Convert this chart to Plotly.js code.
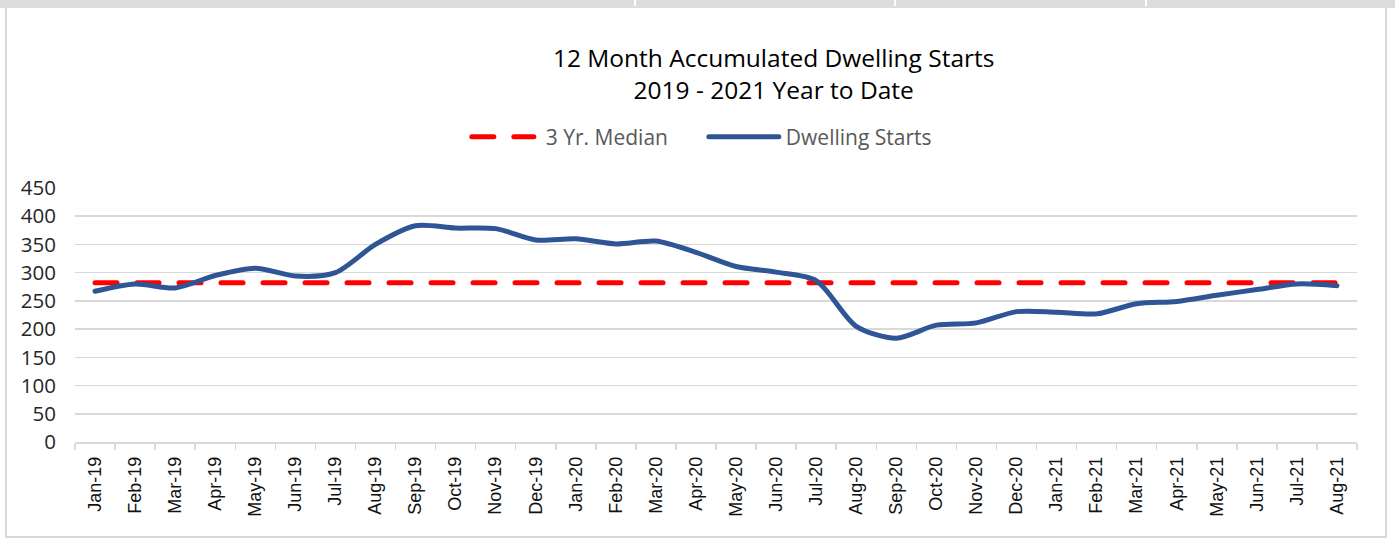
<!DOCTYPE html>
<html>
<head>
<meta charset="utf-8">
<script src="https://cdn.plot.ly/plotly-3.0.1.min.js"></script>
<style>
html, body { margin: 0; padding: 0; background: #ffffff; }
#wrap { position: relative; width: 1395px; height: 538px; overflow: hidden; }
#chart { position: absolute; left: 0; top: 0; width: 1395px; height: 538px; }
.frame { position: absolute; pointer-events: none; }
.scatterlayer path.js-line { stroke-linecap: round; stroke-linejoin: round; }
.legend path.js-line { stroke-linecap: round; }
</style>
</head>
<body>
<div id="wrap">
  <div id="chart"></div>
  <div class="frame" style="left:0;top:0;width:1395px;height:8px;background:#dcdcdc;"></div>
  <div class="frame" style="left:634px;top:0;width:2px;height:6px;background:#ffffff;"></div>
  <div class="frame" style="left:894px;top:0;width:2px;height:6px;background:#ffffff;"></div>
  <div class="frame" style="left:1145px;top:0;width:2px;height:6px;background:#ffffff;"></div>
  <div class="frame" style="left:5px;top:8px;width:2px;height:530px;background:#d9d9d9;"></div>
  <div class="frame" style="left:1385px;top:8px;width:2px;height:530px;background:#d9d9d9;"></div>
  <div class="frame" style="left:5px;top:536px;width:1382px;height:2px;background:#d9d9d9;"></div>
</div>
<script>
var months = ["Jan-19","Feb-19","Mar-19","Apr-19","May-19","Jun-19","Jul-19","Aug-19","Sep-19","Oct-19","Nov-19","Dec-19",
              "Jan-20","Feb-20","Mar-20","Apr-20","May-20","Jun-20","Jul-20","Aug-20","Sep-20","Oct-20","Nov-20","Dec-20",
              "Jan-21","Feb-21","Mar-21","Apr-21","May-21","Jun-21","Jul-21","Aug-21"];
var dwellingStarts = [267,280,273,295,308,294,300,350,383,379,378,358,
                      360,351,356,336,311,301,286,205,184,207,211,231,
                      230,227,245,249,260,270,280,277];
var median3yr = [282,282,282,282,282,282,282,282,282,282,282,282,
                 282,282,282,282,282,282,282,282,282,282,282,282,
                 282,282,282,282,282,282,282,282];
var yTicks = [0,50,100,150,200,250,300,350,400,450];

var traces = [
  {
    x: months, y: median3yr, type: "scatter", mode: "lines", name: "3 Yr. Median",
    line: { color: "#ff0000", width: 5, dash: "22px,20px" },
    hoverinfo: "skip"
  },
  {
    x: months, y: dwellingStarts, type: "scatter", mode: "lines", name: "Dwelling Starts",
    line: { color: "#2f5597", width: 5, shape: "spline", smoothing: 0.8 }
  }
];

var layout = {
  width: 1395, height: 538,
  margin: { l: 75, r: 38, t: 188, b: 96, pad: 0 },
  paper_bgcolor: "#ffffff", plot_bgcolor: "#ffffff",
  title: {
    text: "12 Month Accumulated Dwelling Starts<br>2019 - 2021 Year to Date",
    font: { family: "'Open Sans', sans-serif", size: 24.5, color: "#000000" },
    x: 0.545, xanchor: "center", xref: "paper",
    y: 0.875, yanchor: "top"
  },
  showlegend: true,
  legend: {
    orientation: "h", x: 0.3033, xanchor: "left", y: 1.2, yanchor: "middle",
    font: { family: "'Open Sans', sans-serif", size: 21, color: "#595959" },
    bgcolor: "rgba(0,0,0,0)", itemwidth: 72, entrywidth: 153, entrywidthmode: "pixels",
    tracegroupgap: 0
  },
  xaxis: {
    type: "category", categoryorder: "array", categoryarray: months,
    range: [-0.5, 31.5],
    tickangle: -90, tickson: "boundaries", ticks: "outside", ticklen: 6,
    tickcolor: "#d9d9d9", tickwidth: 1.5,
    showline: true, linecolor: "#d9d9d9", linewidth: 1.5,
    showgrid: false, zeroline: false,
    tickfont: { family: "'Liberation Sans', Arial, sans-serif", size: 18, color: "#111111" },
    ticklabelstandoff: 6,
    fixedrange: true
  },
  yaxis: {
    range: [0, 450], tickmode: "array", tickvals: yTicks, ticktext: yTicks.map(String),
    showgrid: true, gridcolor: "#d9d9d9", gridwidth: 1.5,
    zeroline: false, showline: false, ticks: "",
    tickfont: { family: "'Open Sans', sans-serif", size: 20.5, color: "#262626" },
    ticklabelstandoff: 18,
    fixedrange: true
  }
};

Plotly.newPlot("chart", traces, layout, { displayModeBar: false, staticPlot: true }).then(function () {
  var paths = document.querySelectorAll("#chart .legend .legendlines path");
  paths.forEach(function (p, i) {
    p.setAttribute("d", i === 0 ? "M8,0h62" : "M5,0h70");
  });
});
</script>
</body>
</html>
